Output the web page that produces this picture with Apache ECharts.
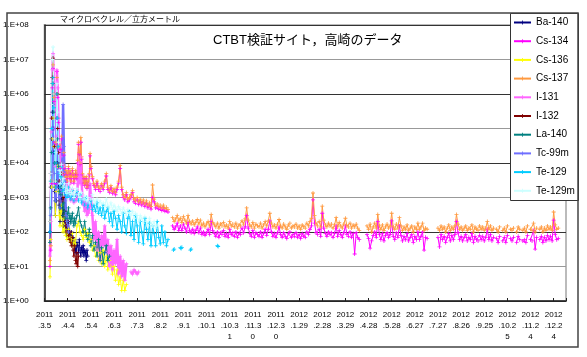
<!DOCTYPE html>
<html><head><meta charset="utf-8">
<script src="https://cdn.jsdelivr.net/npm/echarts@6/dist/echarts.min.js"></script>
<style>html,body{margin:0;padding:0;background:#fff}#c{width:587px;height:357px}</style>
</head><body><div id="c"></div>
<script>
// x = days since 2011-03-05
const xLabels = ['2011\n.3.5','2011\n.4.4','2011\n.5.4','2011\n.6.3','2011\n.7.3','2011\n.8.2','2011\n.9.1','2011\n.10.1','2011\n.10.3\n1','2011\n.11.3\n0','2011\n.12.3\n0','2012\n.1.29','2012\n.2.28','2012\n.3.29','2012\n.4.28','2012\n.5.28','2012\n.6.27','2012\n.7.27','2012\n.8.26','2012\n.9.25','2012\n.10.2\n5','2012\n.11.2\n4','2012\n.12.2\n4'];
const seriesNames = ['Ba-140','Cs-134','Cs-136','Cs-137','I-131','I-132','La-140','Tc-99m','Te-129','Te-129m'];

// Ba-140: daily from day 7
const ba140 = [100,2000,5e4,3e5,1e5,2e4,1500,300,800,3e4,1e4,2000,600,200,500,900,300,150,400,200,100,150,80,120,200,100,80,60,100,50,70,40,60,30,25,50,40,25,60,30,20,35,25,40,20,30,25,15,30,20];
// Cs-134: daily from day 7, every 2 days from 62, every 2 days from 166
const cs134A = [10,30,2500,1.5e6,5.5e6,6e5,4e4,2500,3.5e4,4.5e6,8e5,1.5e5,2.5e4,7000,2.5e4,5e4,9000,4500,1.7e4,7000,3500,5000,2600,4500,7000,3500,5000,2600,3500,6000,4500,2600,3500,5000,3500,4500,1e4,3.5e4,1.8e4,9000,4e4,1.3e4,4500,2600,3500,2200,2600,3500,1800,2600,2200,4500,1.6e4,7000];
const cs134B = [3500,2200,1700,2600,1700,1500,2200,1700,2600,4200,1700,1400,1900,1300,1500,1200,1700,2600,7000,1700,1000,850,1200,750,850,1000,1400,750,680,850,630,750,600,700,550,680,500,600,460,1000,750,500,550,460,500,420,500,400,430,380];
const cs134C = [
 150,120,140,180,110,150,110,170,130,100,
 190,110,95,120,90,110,140,95,130,85,
 100,80,95,120,85,200,110,90,75,100,
 70,95,85,110,75,90,70,120,85,95,
 75,100,70,90,85,130,95,140,300,130,
 90,75,110,70,95,85,75,100,70,90,
 120,80,120,210,100,75,90,70,95,140,
 85,70,95,75,65,90,100,70,85,75,
 95,70,85,65,90,75,70,100,85,120,
 150,850,180,95,85,120,75,350,130,90,
 75,100,85,95,70,90,150,75,110,85,
 70,95,150,85,75,100,70,90,23,95,
 70,60,null,null,null,null,85,65,34,55,
 80,100,70,200,85,60,90,55,80,95,
 70,85,210,75,60,95,70,150,80,55,
 75,60,90,55,70,85,50,75,60,100,
 60,75,100,30,70,65,null,null,null,null,
 null,null,70,37,85,60,75,50,70,90,
 55,80,60,85,200,95,60,75,55,70,
 85,55,70,60,90,50,75,60,55,80,
 60,75,55,70,120,60,85,55,70,null,
 65,50,75,null,55,70,50,80,null,65,
 55,70,null,50,75,60,null,55,60,50,
 80,null,60,55,110,32,70,null,60,75,
 50,70,55,80,60,75,55,220,85,60,
 65];
// Cs-136: daily from day 7, every 2 days from 42
const cs136A = [5,60,2000,5e4,2e5,3e4,2000,300,1500,3e4,8000,1500,300,150,400,600,150,100,250,120,80,100,60,80,120,60,70,50,60,90,50,40,60,45];
const cs136B = [150,200,100,80,60,120,70,90,50,60,30,40,20,30,15,25,12,30,10,20,8,15,10,6,10,4,8,3,5,2,4,2,3];
// Cs-137
const cs137A = [15,40,3000,2e6,7e6,8e5,5e4,3000,4e4,3e6,1e6,2e5,3e4,8000,3e4,6e4,1e4,5000,2e4,8000,4000,6000,3000,5000,8000,4000,6000,3000,4000,7000,5000,3000,4000,6000,4000,5000,1.2e4,4e4,2e4,1e4,5.5e4,1.5e4,5000,3000,4000,2500,3000,4000,2000,3000,2500,5000,1.9e4,8000];
const cs137B = [4000,2500,2000,3000,2000,1800,2500,2000,3000,5000,2000,1600,2200,1500,1800,1400,2000,3000,8500,2000,1200,1000,1400,900,1000,1200,1600,900,800,1000,750,900,700,850,650,800,600,700,550,2300,900,600,650,550,600,500,600,480,520,450];
const cs137C = [
 260,200,240,300,210,250,190,280,220,180,
 300,200,170,210,160,190,230,170,220,150,
 180,140,170,200,150,320,190,160,140,180,
 130,170,150,190,140,160,130,200,150,170,
 140,180,130,160,150,210,170,240,500,220,
 160,140,190,130,170,150,140,180,130,160,
 200,150,210,350,180,140,160,130,170,230,
 150,130,170,140,120,160,180,130,150,140,
 170,130,150,120,160,140,130,180,150,200,
 250,1350,300,170,150,200,140,560,220,160,
 140,180,150,170,130,160,260,140,190,150,
 130,170,250,150,140,180,130,160,140,170,
 130,110,null,null,null,null,150,120,170,100,
 140,180,130,320,150,120,160,110,140,170,
 130,150,350,140,120,170,130,260,150,110,
 140,120,160,110,130,150,100,140,120,180,
 120,140,180,110,130,120,null,null,null,null,
 null,null,130,110,150,120,140,100,130,160,
 110,140,120,150,320,170,120,140,110,130,
 150,110,130,120,160,100,140,120,110,150,
 120,140,110,130,200,120,150,110,130,null,
 120,100,140,null,110,130,100,150,null,120,
 110,130,null,100,140,120,null,110,130,100,
 150,null,120,110,180,100,130,null,120,140,
 100,130,110,150,120,140,110,380,160,120,
 130];
// I-131: daily from day 7, every 2 days from 62, sparse points from 112
const i131A = [20,200,8e4,5e6,1.5e7,2e6,1e5,8000,6e4,5e6,1.5e6,2e5,2e4,5000,1.5e4,3e4,5000,2500,8000,3000,1500,2000,1000,1500,2500,1000,1500,800,1000,1800,1200,700,900,1300,800,1000,2500,1e4,5000,2500,1.5e4,3000,1000,600,800,400,500,700,300,450,350,700,2500,1000];
const i131B = [300,60,200,30,100,15,80,40,150,25,60,10,40,8,30,12,60,6,20,5,15,4,12];
const i131C = [7,6,8,7,6,7];
// I-132: daily from day 7
const i132 = [200,5000,2e5,3e6,1.1e7,1e6,3e4,2000,1e4,1e6,1e5,2e4,3000,800,2000,5000,800,300,1000,400,200,150,100,200,80,60,100,50,40,70,30,20,40,15,12,25,10,20];
// La-140: daily from day 7, every 2 days from 42
const la140A = [50,500,2e4,5e5,2e6,3e5,1e4,800,3000,2e5,5e4,8000,1500,500,1200,2000,600,300,700,400,250,300,200,350,500,250,300,180,250,350,200,150,250,180];
const la140B = [300,500,200,150,100,200,80,60,120,40,80,30,50,20,60,15,35,12,25,40,15,20];
// Tc-99m: daily from day 8
const tc99m = [300,5000,1e5,5e5,1e5,5000,800,2000,2e5,3e4,5000,1000,500,800,3000,1e4,5e5,3e4,3000,800,300,200,150,100];
// Te-129: daily from day 7, every 2 days from 42, late isolated readings [day, value]
const te129A = [100,3000,1e5,2e6,3e6,4e5,2e4,2000,1e4,1e6,2e5,3e4,5000,2000,4000,8000,2500,1500,3000,2000,1200,1500,1000,1300,2000,1100,1300,900,1100,1600,1000,800,1000,1200];
const te129B = [1500,800,1200,700,900,600,1000,500,700,800,450,600,400,700,350,500,300,600,250,400,500,200,350,150,400,250,120,300,200,100,350,150,90,250,400,80,200,60,300,150,50,200,100,45,250,120,60,180,40,150,90,40,200,70,45,150,50,100,40,60];
const te129Late = [[167,30],[168,32],[170,null],[176,35],[177,33],[178,36],[180,null],[189,30],[190,32],[192,null],[224,40],[225,38]];
// Te-129m: daily from day 7, every 2 days from 42
const te129mA = [200,5000,5e5,1e7,2.3e7,1e6,5e4,3000,2e4,2e6,3e5,4e4,6000,2500,5000,9000,3000,2000,3500,2500,1500,2000,1300,1600,2500,1400,1600,1200,1400,1800,1300,1000,1200,1500];
const te129mB = [1800,1200,1000,1400,900,1100,800,1000,700,900,1200,800,700,900,600,800,650,700,550,900,600,500,700,450,600,500,400,550,450,350,500,400,300,450,350,300,400,250,350,300,200,300,250,180,280,200,150,250,180,150,200,130,160];

function seg(start, step, vals){ return vals.map((v,i)=>[start+i*step, v]); }
const brk = d => [d, null];

const dataMap = {
  'Ba-140': seg(7,1,ba140),
  'Cs-134': [...seg(7,1,cs134A), ...seg(62,2,cs134B), brk(163), ...seg(166,2,cs134C)],
  'Cs-136': [...seg(7,1,cs136A), ...seg(42,2,cs136B)],
  'Cs-137': [...seg(7,1,cs137A), ...seg(62,2,cs137B), brk(163), ...seg(166,2,cs137C)],
  'I-131': [...seg(7,1,i131A), ...seg(62,2,i131B), brk(109), ...seg(112,2,i131C)],
  'I-132': seg(7,1,i132),
  'La-140': [...seg(7,1,la140A), ...seg(42,2,la140B)],
  'Tc-99m': seg(8,1,tc99m),
  'Te-129': [...seg(7,1,te129A), ...seg(42,2,te129B), brk(163), ...te129Late],
  'Te-129m': [...seg(7,1,te129mA), ...seg(42,2,te129mB)]
};
const styles = {
  'Ba-140': {c:'#000080', w:1},
  'Cs-134': {c:'#FF00FF', w:1},
  'Cs-136': {c:'#FFFF00', w:1},
  'Cs-137': {c:'#FF9A40', w:1},
  'I-131': {c:'#FF66FF', w:2.5},
  'I-132': {c:'#800000', w:1},
  'La-140': {c:'#008080', w:1},
  'Tc-99m': {c:'#6F6FFF', w:2.5},
  'Te-129': {c:'#00CCFF', w:1},
  'Te-129m': {c:'#CCFFFF', w:1}
};
const plus = 'path://M-0.5,-2.5h1v5h-1z M-2.5,-0.5h5v1h-5z';
const FONT = '"Liberation Sans","Noto Sans CJK JP",sans-serif';

const chart = echarts.init(document.getElementById('c'), null, {renderer:'canvas'});
chart.setOption({
  animation:false,
  backgroundColor:'#fff',
  textStyle:{fontFamily:FONT},
  title:{text:'CTBT検証サイト，高崎のデータ', left:208, top:29, textStyle:{fontSize:13, fontWeight:'normal', color:'#000', fontFamily:FONT}},
  grid:{left:44, right:21, top:25, bottom:56, show:true, borderColor:'#bbb', borderWidth:2, backgroundColor:'transparent'},
  legend:{orient:'vertical', left:513, top:17, padding:0, itemWidth:17, itemHeight:5, itemGap:7.7,
    textStyle:{fontSize:10, lineHeight:11, color:'#000', fontFamily:FONT}, data:seriesNames},
  xAxis:{type:'value', min:0, max:676, interval:30,
    axisLine:{lineStyle:{color:'#222', width:1.5}},
    axisTick:{inside:true, length:3, lineStyle:{color:'#222'}},
    splitLine:{show:false},
    axisLabel:{fontSize:8, lineHeight:11, color:'#000', margin:8, fontFamily:FONT,
      formatter:v => (v % 30 === 0 && xLabels[v/30]) ? xLabels[v/30] : ''}},
  yAxis:{type:'log', logBase:10, min:1, max:1e8,
    axisLine:{show:true, lineStyle:{color:'#222', width:1.5}},
    axisTick:{show:false},
    splitLine:{show:true, lineStyle:{color:['#333','#999'], width:1.2}},
    axisLabel:{fontSize:8, color:'#000', margin:16, fontFamily:FONT,
      formatter:v => '1.E+0' + Math.round(Math.log10(v))}},
  graphic:[
    {type:'rect', shape:{x:7, y:13, width:571, height:334}, style:{fill:'none', stroke:'#444', lineWidth:1.5}, z:100},
    {type:'rect', shape:{x:510.5, y:13.5, width:68, height:187}, style:{fill:'#fff', stroke:'#333', lineWidth:1}, z:3},
    {type:'text', left:60, top:16, style:{text:'マイクロベクレル／立方メートル', fontSize:8, fill:'#000', fontFamily:FONT}, z:100}
  ],
  series: seriesNames.map(n => ({
    name:n, type:'line', data:dataMap[n], connectNulls:false,
    symbol:plus, symbolSize:4, showSymbol:true,
    lineStyle:{color:styles[n].c, width:styles[n].w},
    itemStyle:{color:styles[n].c},
    emphasis:{disabled:true}
  }))
});
</script></body></html>
